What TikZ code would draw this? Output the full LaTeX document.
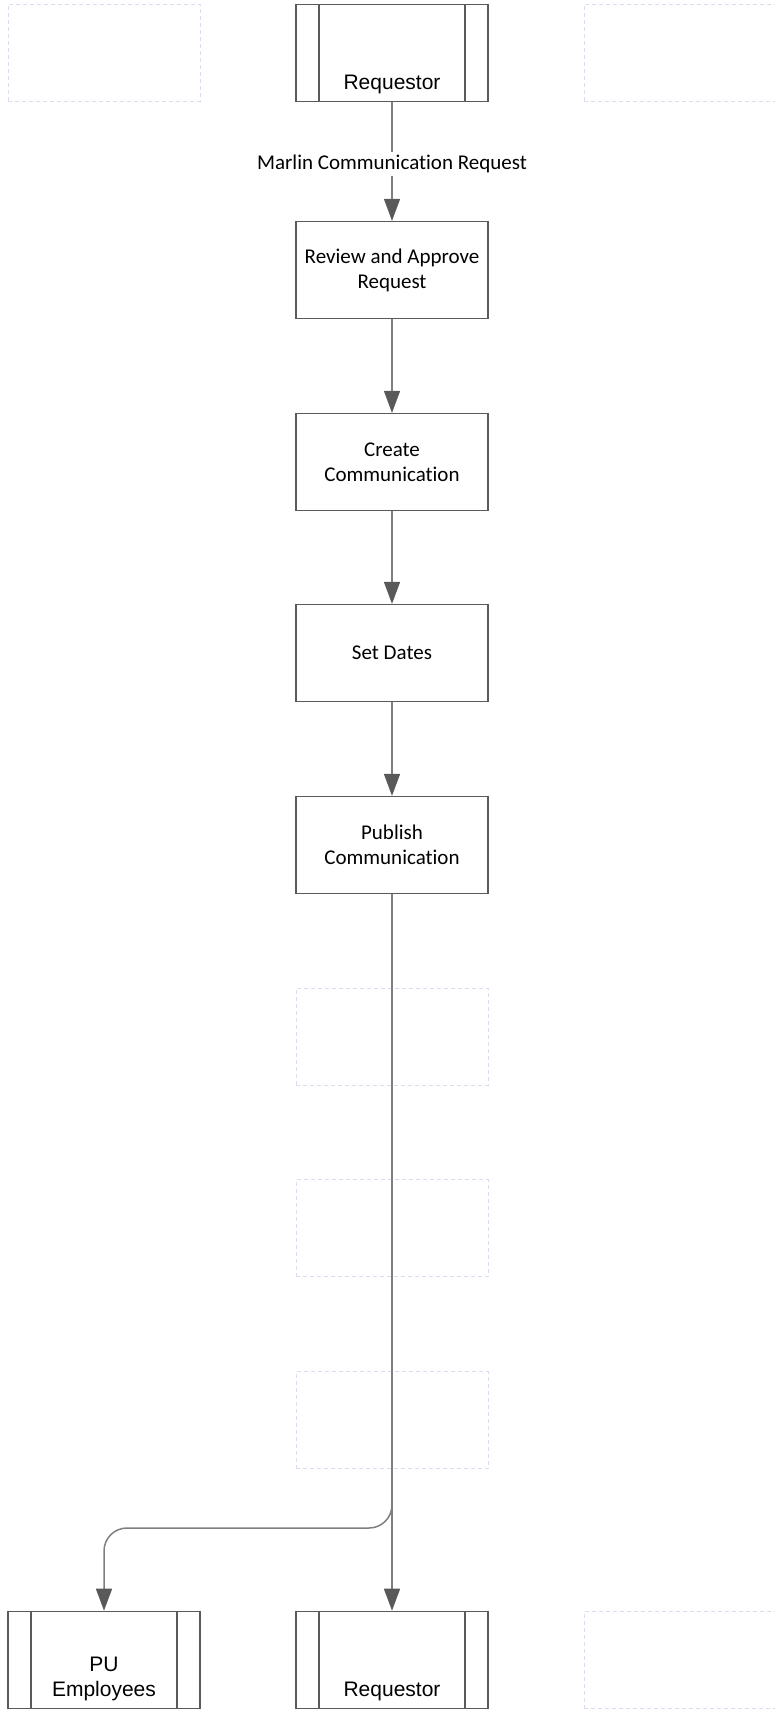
\documentclass[tikz,border=0pt]{standalone}
\usepackage{fontspec}
\setmainfont{Carlito}[Ligatures=CommonOff]
\newfontfamily\lanefont{Liberation Sans}
\usetikzlibrary{arrows.meta,positioning}

\definecolor{figBox}  {HTML}{5A5A5A}
\definecolor{figLine} {HTML}{7F7F7F}
\definecolor{figHead} {HTML}{595959}
\definecolor{figGhost}{HTML}{DCDCEE}

\begin{document}
\begin{tikzpicture}[x=1pt, y=-1pt,
    stepbox/.style={draw=figBox, line width=1.3pt, minimum width=192pt,
      minimum height=97pt, inner sep=2pt, align=center, fill=white,
      font=\fontsize{21}{25}\selectfont},
    lanebox/.style={stepbox, line width=1.6pt},
    ghostbox/.style={draw=figGhost, line width=0.8pt, dash pattern=on 4pt off 3pt,
      minimum width=192pt, minimum height=97pt},
    lanetext/.style={inner sep=0pt, align=center,
      font=\lanefont\fontsize{21}{25}\selectfont},
    conn/.style={draw=figLine, line width=1.5pt,
      -{Triangle[length=22pt, width=16pt, color=figHead]}}]
  \useasboundingbox (0,0) rectangle (775,1712);

  % top row
  \node[ghostbox] (ghTL) at (104,53) {};
  \node[lanebox]  (reqA) at (392,53) {};
  \node[ghostbox] (ghTR) at (680,53) {};

  % steps
  \node[stepbox] (review)  at (392,270) {Review and Approve\\Request};
  \node[stepbox] (create)  at (392,462) {Create\\Communication};
  \node[stepbox] (dates)   at (392,653) {Set Dates};
  \node[stepbox] (publish) at (392,845) {Publish\\Communication};
  \node[ghostbox] (ghA) at (392,1036.5) {};
  \node[ghostbox] (ghB) at (392,1228)   {};
  \node[ghostbox] (ghC) at (392,1420)   {};

  % bottom row
  \node[lanebox]  (pu)   at (104,1660) {};
  \node[lanebox]  (reqB) at (392,1660) {};
  \node[ghostbox] (ghBR) at (680,1660) {};

  \foreach \n in {reqA,pu,reqB}{
    \draw[figBox, line width=1.6pt]
      ([xshift=24pt]\n.north west)--([xshift=24pt]\n.south west);
    \draw[figBox, line width=1.6pt]
      ([xshift=-24pt]\n.north east)--([xshift=-24pt]\n.south east);
  }
  \node[lanetext, above=8pt of reqA.south] (reqAtxt) {Requestor};
  \node[lanetext, above=8pt of pu.south]   (putxt)   {PU\\Employees};
  \node[lanetext, above=8pt of reqB.south] (reqBtxt) {Requestor};

  % connectors
  \draw[conn] (reqA)--(review)
        node[midway, yshift=-2pt, fill=white, inner sep=3pt,
             font=\fontsize{21}{25}\selectfont]{Marlin Communication Request};
  \draw[conn] (review)--(create);
  \draw[conn] (create)--(dates);
  \draw[conn] (dates)--(publish);
  \coordinate (split) at (0,1528);
  \draw[conn, rounded corners=23pt]
        (publish.south)--(publish.south |- split)--(pu.north |- split)--(pu.north);
  \draw[conn] (publish.south)--(reqB.north);
\end{tikzpicture}
\end{document}
